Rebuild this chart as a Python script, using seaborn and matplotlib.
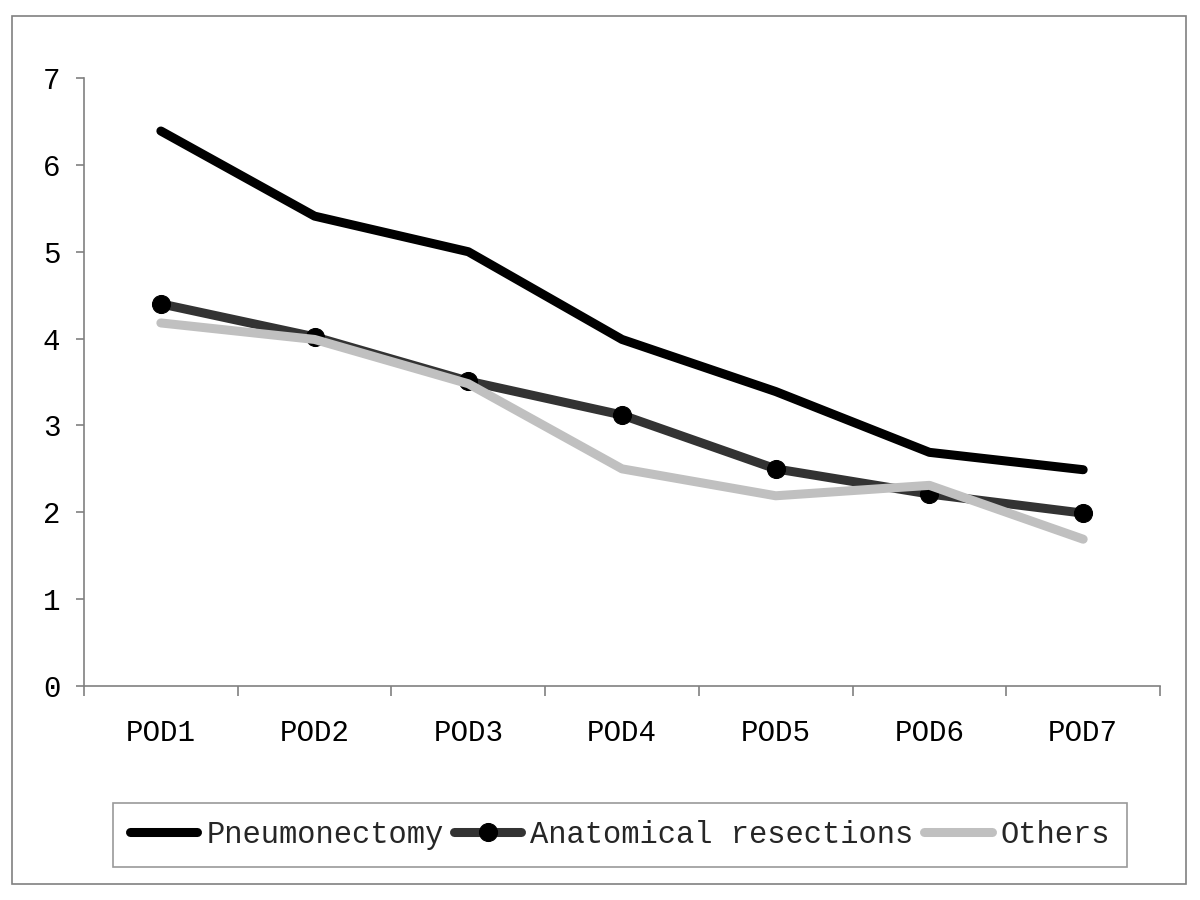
import pandas as pd
import matplotlib.pyplot as plt
import seaborn as sns
from matplotlib.patches import Rectangle
from matplotlib.ticker import FixedLocator

# data
days = ["POD1", "POD2", "POD3", "POD4", "POD5", "POD6", "POD7"]
pneumonectomy = [6.39, 5.41, 5.0, 3.99, 3.39, 2.69, 2.49]
anatomical = [4.40, 4.02, 3.51, 3.12, 2.50, 2.21, 1.99]
others = [4.18, 3.99, 3.48, 2.50, 2.19, 2.31, 1.69]

sns.set_theme(style="white")
plt.rcParams['font.family'] = ['Liberation Mono', 'DejaVu Sans Mono']

fig = plt.figure(figsize=(12, 9), dpi=100)
ax = fig.add_axes([0.07, 0.2378, 0.8967, 0.6755])

series = [
    ("Pneumonectomy", pneumonectomy, "#000000", None),
    ("Anatomical resections", anatomical, "#333333", "o"),
    ("Others", others, "#c0c0c0", None),
]
for name, vals, col, mk in series:
    df = pd.DataFrame({"day": days, "value": vals})
    sns.lineplot(data=df, x="day", y="value", ax=ax, color=col, lw=6.5,
                 marker=mk, markersize=13, markerfacecolor="#000000",
                 markeredgecolor="#000000", label=name,
                 solid_capstyle="round", solid_joinstyle="round")

ax.set_xlim(-0.5, 6.5)
ax.set_ylim(0, 7)
ax.set_yticks(range(0, 8))
ax.set_xlabel("")
ax.set_ylabel("")

for s in ["top", "right"]:
    ax.spines[s].set_visible(False)
for s in ["left", "bottom"]:
    ax.spines[s].set_color("#808080")
    ax.spines[s].set_linewidth(1.2)

ax.xaxis.set_minor_locator(FixedLocator([i - 0.5 for i in range(8)]))
ax.tick_params(axis="x", which="major", length=0, pad=24, labelsize=21, colors="#000000")
ax.tick_params(axis="x", which="minor", bottom=True, length=7, width=1.2, color="#808080", direction="out")
ax.tick_params(axis="y", which="major", left=True, length=6, width=1.2, color="#808080",
               direction="out", pad=11, labelsize=21, labelcolor="#000000")

leg = ax.legend(loc="center", bbox_to_anchor=(0.5167, 0.0722), bbox_transform=fig.transFigure,
                ncol=3, fontsize=22, frameon=True, fancybox=False, handlelength=2.2,
                handletextpad=0.3, columnspacing=0.35, borderpad=0.55, borderaxespad=0)
leg.get_frame().set_edgecolor("#808080")
leg.get_frame().set_linewidth(1.2)

fig.add_artist(Rectangle((0.01, 0.018), 0.978, 0.964, transform=fig.transFigure,
                         fill=False, edgecolor="#808080", linewidth=1.2))

fig.savefig("out.png", dpi=100)
